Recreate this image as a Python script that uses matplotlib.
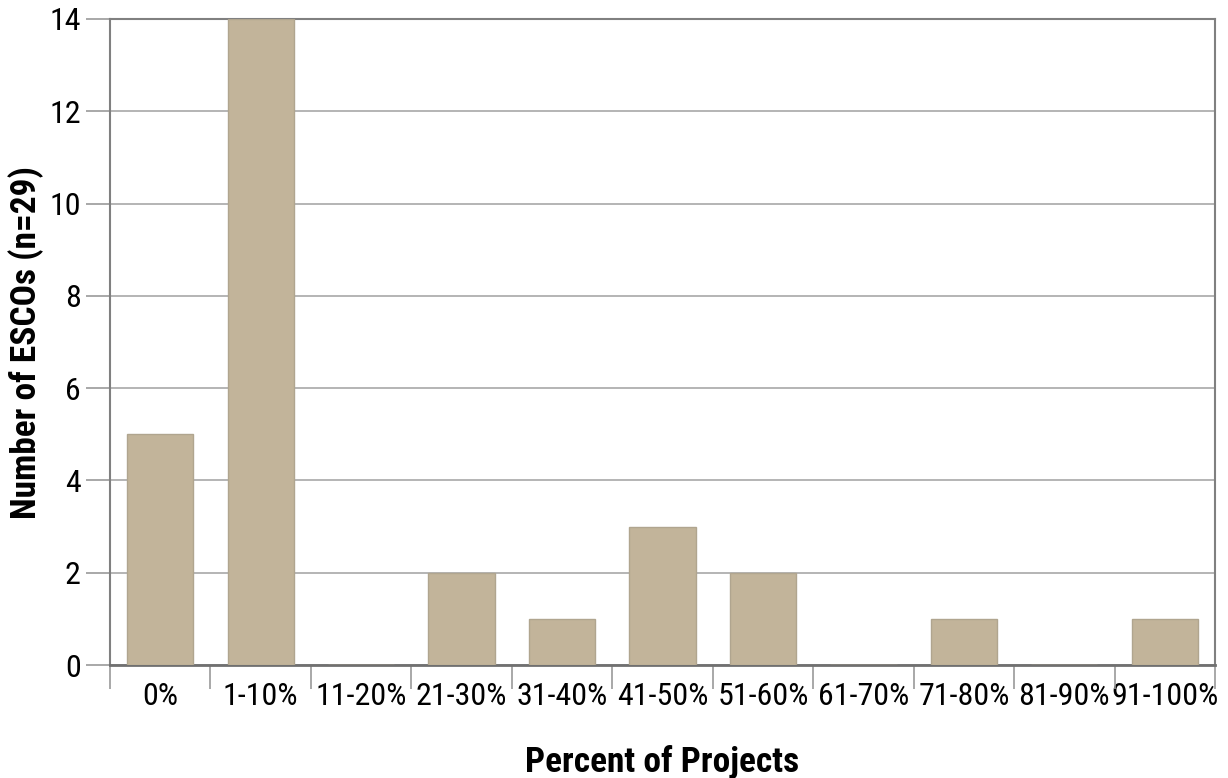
import matplotlib.pyplot as plt
from matplotlib.ticker import FixedLocator

# 데이터
categories = ['0%', '1-10%', '11-20%', '21-30%', '31-40%', '41-50%',
              '51-60%', '61-70%', '71-80%', '81-90%', '91-100%']
counts = [5, 14, 0, 2, 1, 3, 2, 0, 1, 0, 1]
y_ticks = [0, 2, 4, 6, 8, 10, 12, 14]

plt.rcParams['font.family'] = ['Roboto Condensed', 'DejaVu Sans']

fig = plt.figure(figsize=(12.28, 7.78), dpi=100)
ax = fig.add_axes([0.0896, 0.1452, 0.8998, 0.8304])

x = list(range(len(categories)))
ax.bar(x, counts, width=0.66, color='#c2b49a', edgecolor='#b0a58f',
       linewidth=1.0, zorder=3)

ax.set_xlim(-0.5, len(categories) - 0.5)
ax.set_ylim(0, 14)
ax.set_yticks(y_ticks)
ax.yaxis.grid(True, color='#a8a8a8', linewidth=1.2, zorder=0)

ax.set_xticks(x)
ax.set_xticklabels(categories)
# 카테고리 경계에 눈금 표시
ax.xaxis.set_minor_locator(FixedLocator([i - 0.5 for i in range(len(categories) + 1)]))
ax.tick_params(axis='x', which='major', length=0, pad=12, labelsize=23)
ax.tick_params(axis='x', which='minor', length=17, color='#999999', width=1.2)
ax.tick_params(axis='y', length=17, color='#999999', width=1.2, pad=4, labelsize=23)

for side in ['left', 'right', 'top']:
    ax.spines[side].set_color('#808080')
    ax.spines[side].set_linewidth(1.5)
ax.spines['bottom'].set_color('#707070')
ax.spines['bottom'].set_linewidth(2)

ax.set_xlabel('Percent of Projects', fontsize=25.5, fontweight='bold', labelpad=25)
ax.set_ylabel('Number of ESCOs (n=29)', fontsize=25.5, fontweight='bold', labelpad=4)

plt.savefig('out.png', dpi=100)
